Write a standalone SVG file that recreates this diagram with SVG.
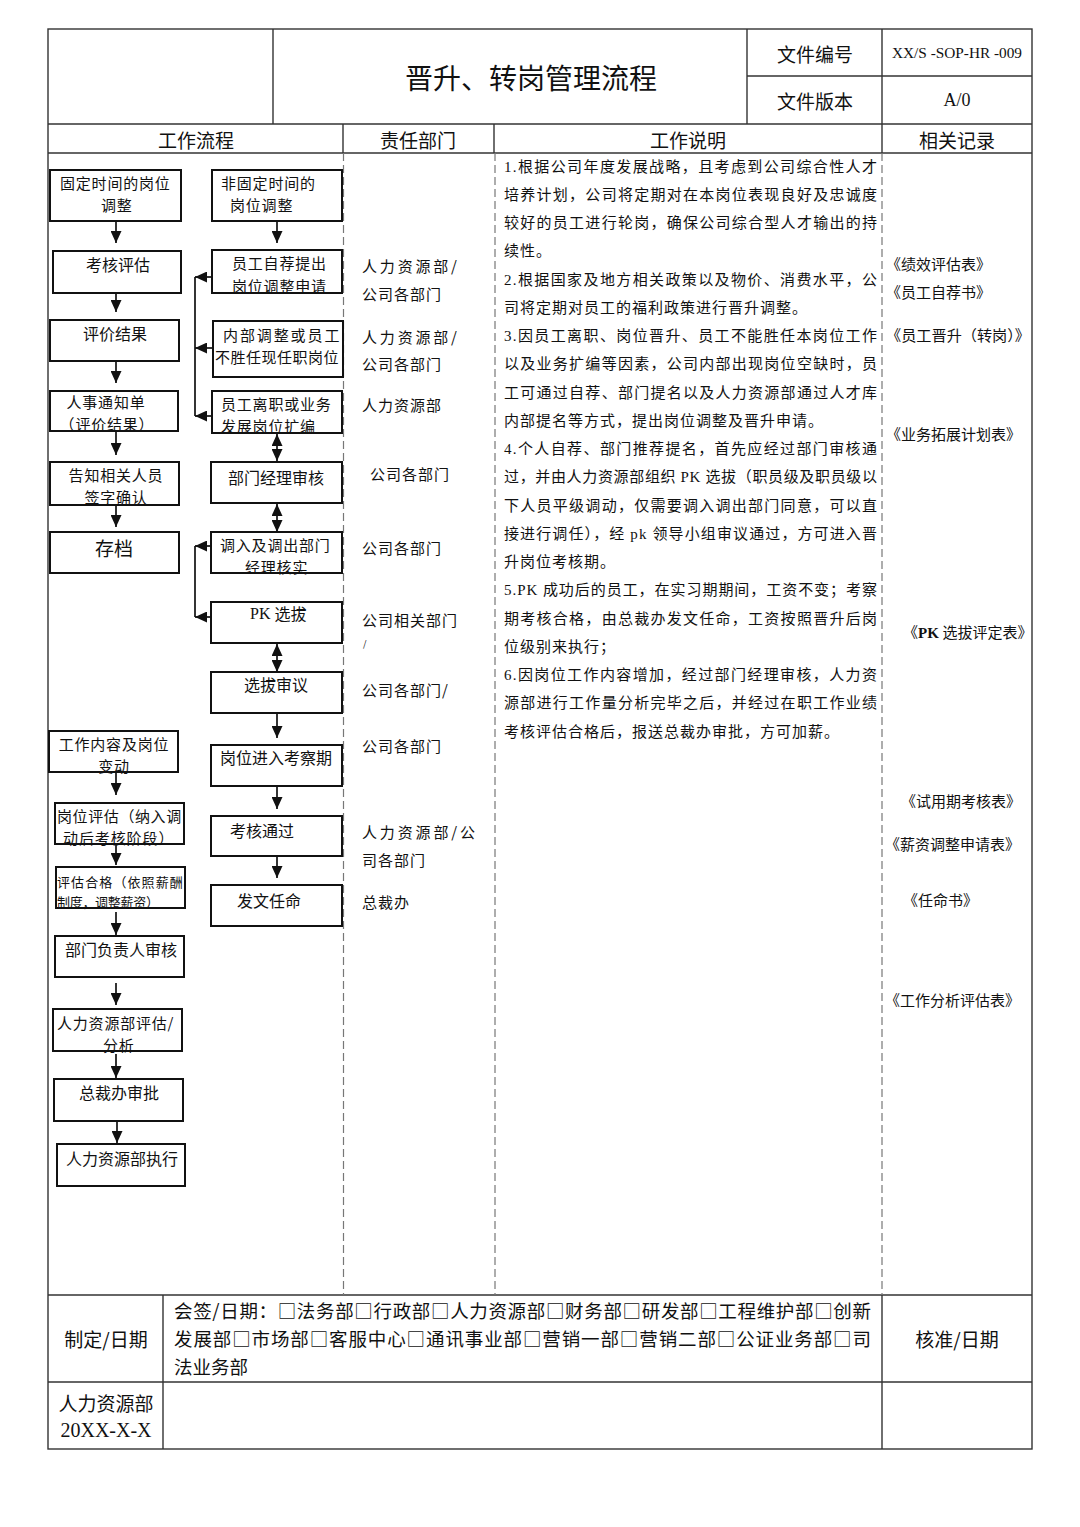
<svg xmlns="http://www.w3.org/2000/svg" width="1080" height="1527" viewBox="0 0 1080 1527">
<style>
text{font-family:"Noto Sans CJK SC",sans-serif;fill:#111;dominant-baseline:central}
.t{font-size:16px}
.t2{font-size:15px;letter-spacing:0.8px}
.h{font-size:19px}
.m{font-size:15px;letter-spacing:1px}
.d{font-family:"Liberation Serif","Noto Sans CJK SC",serif;font-size:15px;letter-spacing:1px}
.r{font-family:"Liberation Serif","Noto Sans CJK SC",serif;font-size:15px}
.f{font-size:18.5px}
.box{fill:#fff;stroke:#111;stroke-width:2}
.frame{stroke:#333;stroke-width:1.4;fill:none}
.dash{stroke:#777;stroke-width:1.2;stroke-dasharray:8 4;fill:none}
.c{stroke:#111;stroke-width:1.7;fill:none}
.a{marker-end:url(#ah)}
.aa{marker-end:url(#ah);marker-start:url(#ah)}
</style>
<defs>
<marker id="ah" viewBox="0 0 12 11" refX="12" refY="5.5" markerWidth="12" markerHeight="11" markerUnits="userSpaceOnUse" orient="auto-start-reverse">
<path d="M0,0 L12,5.5 L0,11 z" fill="#111"/>
</marker>
</defs>
<rect width="1080" height="1527" fill="#fff"/>
<g id="frame">
<rect class="frame" x="48" y="29" width="984" height="1420"/>
<line class="frame" x1="48" y1="124" x2="1032" y2="124"/>
<line class="frame" x1="48" y1="153" x2="1032" y2="153"/>
<line class="frame" x1="48" y1="1295" x2="1032" y2="1295"/>
<line class="frame" x1="48" y1="1382" x2="1032" y2="1382"/>
<line class="frame" x1="273" y1="29" x2="273" y2="124"/>
<line class="frame" x1="747" y1="29" x2="747" y2="124"/>
<line class="frame" x1="882" y1="29" x2="882" y2="124"/>
<line class="frame" x1="747" y1="76" x2="1032" y2="76"/>
<line class="frame" x1="343" y1="124" x2="343" y2="153"/>
<line class="frame" x1="494" y1="124" x2="494" y2="153"/>
<line class="frame" x1="882" y1="124" x2="882" y2="153"/>
<line class="dash" x1="343.5" y1="153" x2="343.5" y2="1295"/>
<line class="dash" x1="495" y1="153" x2="495" y2="1295"/>
<line class="dash" x1="882" y1="153" x2="882" y2="1295"/>
<line class="frame" x1="163" y1="1295" x2="163" y2="1449"/>
<line class="frame" x1="882" y1="1295" x2="882" y2="1449"/>
</g>
<g id="header">
<text x="531" y="77" style="font-size:28px" text-anchor="middle">晋升、转岗管理流程</text>
<text class="h" x="815" y="53" text-anchor="middle">文件编号</text>
<text class="h" x="815" y="100" text-anchor="middle">文件版本</text>
<text x="892" y="53" style="font-family:'Liberation Serif',serif;font-size:14px" textLength="130" lengthAdjust="spacingAndGlyphs">XX/S -SOP-HR -009</text>
<text x="957" y="100" style="font-family:'Liberation Serif',serif;font-size:18px" text-anchor="middle">A/0</text>
<text class="h" x="196" y="139" text-anchor="middle">工作流程</text>
<text class="h" x="418" y="139" text-anchor="middle">责任部门</text>
<text class="h" x="688" y="139" text-anchor="middle">工作说明</text>
<text class="h" x="957" y="139" text-anchor="middle">相关记录</text>
</g>
<g id="connectors">
<line class="c a" x1="116" y1="221" x2="116" y2="243"/>
<line class="c a" x1="116" y1="293" x2="116" y2="312"/>
<line class="c a" x1="116" y1="361" x2="116" y2="383"/>
<line class="c a" x1="116" y1="431" x2="116" y2="455"/>
<line class="c a" x1="116" y1="505" x2="116" y2="527"/>
<line class="c a" x1="116" y1="772" x2="116" y2="795"/>
<line class="c a" x1="116" y1="844" x2="116" y2="865"/>
<line class="c a" x1="116" y1="912" x2="116" y2="935"/>
<line class="c a" x1="116" y1="983" x2="116" y2="1005"/>
<line class="c a" x1="116" y1="1054" x2="116" y2="1078"/>
<line class="c a" x1="117" y1="1121" x2="117" y2="1143"/>
<line class="c a" x1="277" y1="221" x2="277" y2="243"/>
<line class="c aa" x1="277" y1="434" x2="277" y2="461"/>
<line class="c aa" x1="277" y1="504" x2="277" y2="532"/>
<line class="c aa" x1="277" y1="644" x2="277" y2="672"/>
<line class="c a" x1="277" y1="714" x2="277" y2="738"/>
<line class="c a" x1="277" y1="787" x2="277" y2="809"/>
<line class="c a" x1="277" y1="857" x2="277" y2="878"/>
<line class="c" x1="195" y1="277" x2="195" y2="416"/>
<line class="c a" x1="212" y1="277" x2="195" y2="277"/>
<line class="c a" x1="213" y1="348" x2="195" y2="348"/>
<line class="c a" x1="212" y1="416" x2="195" y2="416"/>
<line class="c" x1="195" y1="546" x2="195" y2="617"/>
<line class="c a" x1="211" y1="546" x2="195" y2="546"/>
<line class="c a" x1="211" y1="617" x2="195" y2="617"/>
</g>
<g id="n1"><rect class="box" x="50" y="170" width="131" height="51"/><text class="t2"><tspan x="60" y="182">固定时间的岗位</tspan><tspan x="101" y="204">调整</tspan></text></g>
<g id="n2"><rect class="box" x="53" y="251" width="128" height="42"/><text class="t" x="86" y="264">考核评估</text></g>
<g id="n3"><rect class="box" x="50" y="320" width="129" height="41"/><text class="t" x="83" y="333">评价结果</text></g>
<g id="n4"><rect class="box" x="50" y="391" width="128" height="40"/><text class="t2" text-anchor="middle"><tspan x="106" y="401">人事通知单</tspan><tspan x="107" y="423">（评价结果）</tspan></text></g>
<g id="n5"><rect class="box" x="50" y="462" width="129" height="43"/><text class="t2" text-anchor="middle"><tspan x="116" y="474">告知相关人员</tspan><tspan x="116" y="496">签字确认</tspan></text></g>
<g id="n6"><rect class="box" x="50" y="532" width="129" height="41"/><text x="114" y="547" style="font-size:19px" text-anchor="middle">存档</text></g>
<g id="n7"><rect class="box" x="49" y="731" width="129" height="41"/><text class="t2" text-anchor="middle"><tspan x="114" y="743">工作内容及岗位</tspan><tspan x="114" y="765">变动</tspan></text></g>
<g id="n8"><rect class="box" x="55" y="803" width="129" height="41"/><text class="t2"><tspan x="57" y="815" letter-spacing="0.6">岗位评估（纳入调</tspan><tspan x="63" y="837" letter-spacing="0.9">动后考核阶段）</tspan></text></g>
<g id="n9"><rect class="box" x="56" y="867" width="129" height="41"/><text style="font-size:13px"><tspan x="57" y="881" letter-spacing="1.1">评估合格（依照薪酬</tspan><tspan x="57" y="901" letter-spacing="-0.3">制度，调整薪资）</tspan></text></g>
<g id="n10"><rect class="box" x="55" y="936" width="129" height="41"/><text class="t" x="65" y="949">部门负责人审核</text></g>
<g id="n11"><rect class="box" x="53" y="1009" width="129" height="42"/><text class="t2"><tspan x="57" y="1022">人力资源部评估/</tspan><tspan x="103" y="1044">分析</tspan></text></g>
<g id="n12"><rect class="box" x="54" y="1079" width="129" height="42"/><text class="t" x="79" y="1092">总裁办审批</text></g>
<g id="n13"><rect class="box" x="57" y="1144" width="128" height="42"/><text class="t" x="66" y="1158">人力资源部执行</text></g>
<g id="m1"><rect class="box" x="212" y="170" width="130" height="51"/><text class="t2"><tspan x="221" y="182">非固定时间的</tspan><tspan x="230" y="204">岗位调整</tspan></text></g>
<g id="m2"><rect class="box" x="212" y="250" width="130" height="43"/><text class="t2"><tspan x="232" y="262">员工自荐提出</tspan><tspan x="232" y="285">岗位调整申请</tspan></text></g>
<g id="m3"><rect class="box" x="213" y="321" width="130" height="56"/><text class="t2"><tspan x="223" y="334" letter-spacing="1.9">内部调整或员工</tspan><tspan x="215" y="356" letter-spacing="0.5">不胜任现任职岗位</tspan></text></g>
<g id="m4"><rect class="box" x="212" y="391" width="130" height="42"/><text class="t2"><tspan x="221" y="403">员工离职或业务</tspan><tspan x="221" y="425">发展岗位扩编</tspan></text></g>
<g id="m5"><rect class="box" x="211" y="462" width="131" height="41"/><text class="t" x="228" y="477">部门经理审核</text></g>
<g id="m6"><rect class="box" x="211" y="532" width="131" height="41"/><text class="t2"><tspan x="220" y="544">调入及调出部门</tspan><tspan x="245" y="566">经理核实</tspan></text></g>
<g id="m7"><rect class="box" x="211" y="602" width="131" height="41"/><text class="t" x="250" y="613"><tspan style="font-family:'Liberation Serif',serif">PK </tspan>选拔</text></g>
<g id="m8"><rect class="box" x="211" y="672" width="131" height="41"/><text class="t" x="244" y="684">选拔审议</text></g>
<g id="m9"><rect class="box" x="211" y="745" width="131" height="41"/><text class="t" x="220" y="757">岗位进入考察期</text></g>
<g id="m10"><rect class="box" x="211" y="816" width="131" height="40"/><text class="t" x="230" y="830">考核通过</text></g>
<g id="m11"><rect class="box" x="211" y="885" width="131" height="41"/><text class="t" x="237" y="900">发文任命</text></g>
<g id="departments">
<text class="m" x="362" y="265" textLength="96" lengthAdjust="spacing">人力资源部/</text>
<text class="m" x="362" y="293">公司各部门</text>
<text class="m" x="362" y="336" textLength="96" lengthAdjust="spacing">人力资源部/</text>
<text class="m" x="362" y="363">公司各部门</text>
<text class="m" x="362" y="404">人力资源部</text>
<text class="m" x="370" y="473">公司各部门</text>
<text class="m" x="362" y="547">公司各部门</text>
<text class="m" x="362" y="619">公司相关部门</text>
<text x="363" y="643" style="font-size:9px">/</text>
<text class="m" x="362" y="689">公司各部门/</text>
<text class="m" x="362" y="745">公司各部门</text>
<text class="m" x="362" y="831" textLength="114" lengthAdjust="spacing">人力资源部/公</text>
<text class="m" x="362" y="859">司各部门</text>
<text class="m" x="362" y="901">总裁办</text>
</g>
<g id="description">
<text class="d" x="504" y="166.5" textLength="374" lengthAdjust="spacing">1.根据公司年度发展战略，且考虑到公司综合性人才</text>
<text class="d" x="504" y="194.8" textLength="374" lengthAdjust="spacing">培养计划，公司将定期对在本岗位表现良好及忠诚度</text>
<text class="d" x="504" y="223" textLength="374" lengthAdjust="spacing">较好的员工进行轮岗，确保公司综合型人才输出的持</text>
<text class="d" x="504" y="251.3">续性。</text>
<text class="d" x="504" y="279.5" textLength="374" lengthAdjust="spacing">2.根据国家及地方相关政策以及物价、消费水平，公</text>
<text class="d" x="504" y="307.8">司将定期对员工的福利政策进行晋升调整。</text>
<text class="d" x="504" y="336" textLength="374" lengthAdjust="spacing">3.因员工离职、岗位晋升、员工不能胜任本岗位工作</text>
<text class="d" x="504" y="364.3" textLength="374" lengthAdjust="spacing">以及业务扩编等因素，公司内部出现岗位空缺时，员</text>
<text class="d" x="504" y="392.5" textLength="374" lengthAdjust="spacing">工可通过自荐、部门提名以及人力资源部通过人才库</text>
<text class="d" x="504" y="420.8">内部提名等方式，提出岗位调整及晋升申请。</text>
<text class="d" x="504" y="449" textLength="374" lengthAdjust="spacing">4.个人自荐、部门推荐提名，首先应经过部门审核通</text>
<text class="d" x="504" y="477.3" textLength="374" lengthAdjust="spacing">过，并由人力资源部组织 PK 选拔（职员级及职员级以</text>
<text class="d" x="504" y="505.5" textLength="374" lengthAdjust="spacing">下人员平级调动，仅需要调入调出部门同意，可以直</text>
<text class="d" x="504" y="533.8" textLength="374" lengthAdjust="spacing">接进行调任），经 pk 领导小组审议通过，方可进入晋</text>
<text class="d" x="504" y="562">升岗位考核期。</text>
<text class="d" x="504" y="590.3" textLength="374" lengthAdjust="spacing">5.PK 成功后的员工，在实习期期间，工资不变；考察</text>
<text class="d" x="504" y="618.5" textLength="374" lengthAdjust="spacing">期考核合格，由总裁办发文任命，工资按照晋升后岗</text>
<text class="d" x="504" y="646.8">位级别来执行；</text>
<text class="d" x="504" y="675" textLength="374" lengthAdjust="spacing">6.因岗位工作内容增加，经过部门经理审核，人力资</text>
<text class="d" x="504" y="703.3" textLength="374" lengthAdjust="spacing">源部进行工作量分析完毕之后，并经过在职工作业绩</text>
<text class="d" x="504" y="731.5">考核评估合格后，报送总裁办审批，方可加薪。</text>
</g>
<g id="records">
<text class="r" x="886" y="265">《绩效评估表》</text>
<text class="r" x="886" y="293">《员工自荐书》</text>
<text class="r" x="886" y="336" textLength="144" lengthAdjust="spacingAndGlyphs">《员工晋升（转岗）》</text>
<text class="r" x="886" y="435">《业务拓展计划表》</text>
<text class="r" x="903" y="633"><tspan>《</tspan><tspan style="font-weight:bold">PK</tspan> 选拔评定表》</text>
<text class="r" x="901" y="802">《试用期考核表》</text>
<text class="r" x="885" y="845">《薪资调整申请表》</text>
<text class="r" x="903" y="901">《任命书》</text>
<text class="r" x="885" y="1001">《工作分析评估表》</text>
</g>
<g id="footer">
<text class="h" x="106" y="1338" text-anchor="middle">制定/日期</text>
<text class="f" x="174" y="1310" textLength="697" lengthAdjust="spacing">会签/日期：□法务部□行政部□人力资源部□财务部□研发部□工程维护部□创新</text>
<text class="f" x="174" y="1338" textLength="697" lengthAdjust="spacing">发展部□市场部□客服中心□通讯事业部□营销一部□营销二部□公证业务部□司</text>
<text class="f" x="174" y="1366">法业务部</text>
<text class="h" x="957" y="1338" text-anchor="middle">核准/日期</text>
<text class="h" x="106" y="1402" text-anchor="middle">人力资源部</text>
<text x="106" y="1430" style="font-family:'Liberation Serif',serif;font-size:20px" text-anchor="middle">20XX-X-X</text>
</g>
</svg>
